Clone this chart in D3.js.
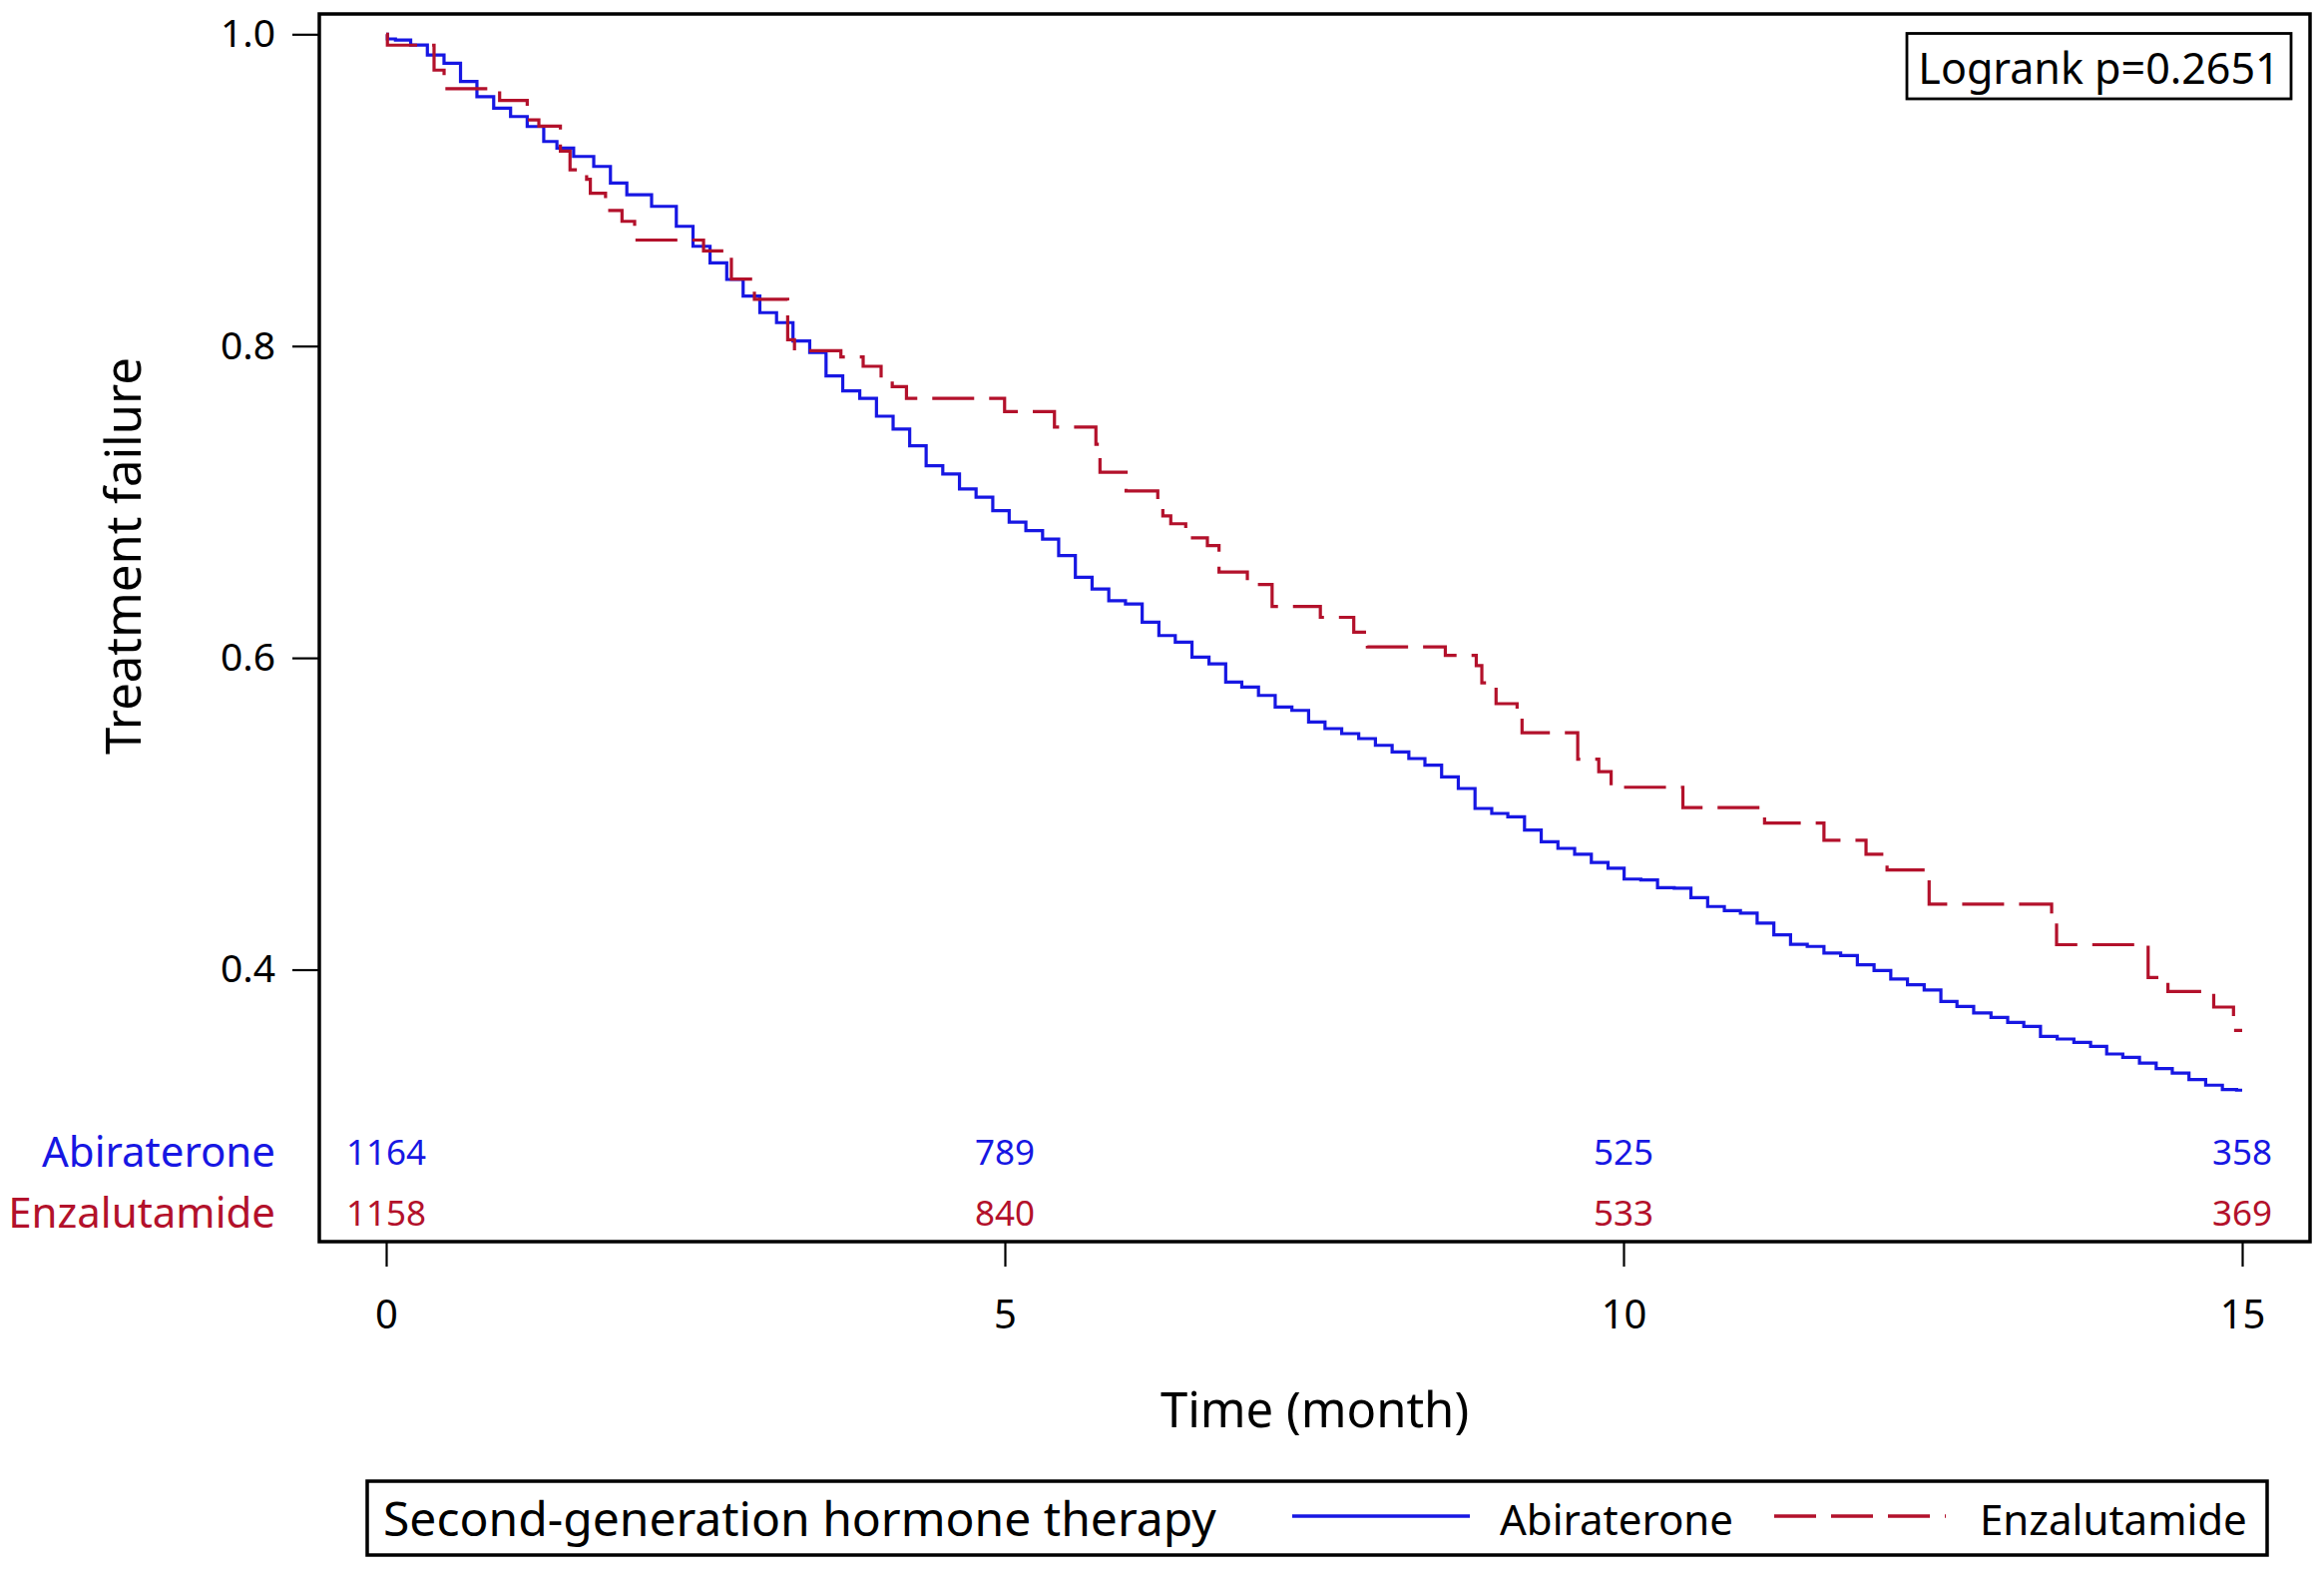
<!DOCTYPE html>
<html>
<head>
<meta charset="utf-8">
<script src="https://cdn.jsdelivr.net/npm/d3@7"></script>
<style>
  body { margin: 0; background: #fff; }
  svg text { font-family: "Noto Sans", "Open Sans", sans-serif; }
</style>
</head>
<body>
<div id="chart"></div>
<script>
// Abiraterone KM estimate (time in months, proportion)
const abiTime = [0, 0.02, 0.13, 0.266, 0.40, 0.535, 0.667, 0.80, 0.938, 1.073, 1.207, 1.34, 1.42, 1.61, 1.745, 1.88, 2.01, 2.28, 2.41, 2.55, 2.685, 2.82, 2.95, 3.09, 3.22, 3.356, 3.49, 3.62, 3.76, 3.895, 4.03, 4.164, 4.298, 4.43, 4.567, 4.70, 4.835, 4.97, 5.10, 5.24, 5.37, 5.50, 5.64, 5.77, 5.91, 6.04, 6.18, 6.31, 6.445, 6.58, 6.72, 6.85, 6.98, 7.12, 7.25, 7.39, 7.52, 7.655, 7.79, 7.93, 8.06, 8.2, 8.33, 8.46, 8.60, 8.73, 8.87, 9.0, 9.13, 9.27, 9.40, 9.54, 9.67, 9.81, 9.94, 10.07, 10.21, 10.34, 10.48, 10.61, 10.75, 10.88, 11.01, 11.15, 11.28, 11.42, 11.55, 11.69, 11.82, 11.96, 12.09, 12.23, 12.36, 12.5, 12.63, 12.76, 12.9, 13.04, 13.17, 13.3, 13.44, 13.57, 13.71, 13.84, 13.97, 14.1, 14.24, 14.37, 14.5, 14.64, 14.77, 14.91, 15.0];
const abiSurv = [1.0, 0.997, 0.9963, 0.9931, 0.9867, 0.9814, 0.9697, 0.960, 0.9526, 0.9472, 0.9408, 0.9312, 0.927, 0.9216, 0.9152, 0.9046, 0.897, 0.8896, 0.8768, 0.864, 0.8534, 0.8427, 0.832, 0.8214, 0.815, 0.8032, 0.7958, 0.7808, 0.7712, 0.7665, 0.755, 0.7467, 0.736, 0.7232, 0.7179, 0.7083, 0.703, 0.6944, 0.687, 0.6816, 0.6762, 0.6656, 0.6517, 0.6442, 0.6367, 0.6346, 0.6229, 0.6143, 0.6101, 0.6005, 0.5962, 0.5845, 0.5813, 0.5759, 0.5685, 0.5663, 0.5589, 0.5546, 0.5514, 0.5482, 0.5439, 0.5397, 0.5354, 0.5311, 0.5237, 0.5162, 0.5034, 0.5002, 0.498, 0.4895, 0.482, 0.4778, 0.474, 0.4688, 0.465, 0.4581, 0.4575, 0.4526, 0.4522, 0.4462, 0.4405, 0.4379, 0.4362, 0.4298, 0.4223, 0.4163, 0.4149, 0.4106, 0.4091, 0.4031, 0.3995, 0.394, 0.3903, 0.387, 0.3796, 0.3764, 0.3722, 0.3694, 0.3662, 0.3636, 0.3572, 0.3555, 0.3534, 0.3508, 0.3459, 0.3438, 0.3401, 0.3365, 0.3337, 0.3295, 0.3259, 0.3231, 0.3227];

// Enzalutamide KM estimate: value after each step
const enzTime = [0, 0.01, 0.387, 0.468, 0.917, 1.14, 1.234, 1.408, 1.486, 1.62, 1.65, 1.773, 1.906, 2.008, 2.565, 2.79, 2.976, 3.245, 3.30, 3.675, 3.855, 4.0, 4.09, 4.205, 4.998, 5.401, 5.736, 5.769, 5.98, 6.236, 6.277, 6.341, 6.462, 6.637, 6.731, 6.96, 7.16, 7.55, 7.82, 7.93, 8.56, 8.81, 8.855, 8.97, 9.14, 9.18, 9.63, 9.80, 9.90, 10.48, 11.14, 11.62, 11.96, 12.13, 12.47, 13.46, 13.50, 14.24, 14.40, 14.77, 14.93, 15.0];
const enzSurv = [1.0, 0.993, 0.977, 0.965, 0.9575, 0.945, 0.941, 0.925, 0.913, 0.907, 0.898, 0.887, 0.880, 0.868, 0.861, 0.843, 0.830, 0.804, 0.797, 0.793, 0.787, 0.779, 0.774, 0.7665, 0.758, 0.748, 0.737, 0.719, 0.707, 0.701, 0.691, 0.686, 0.677, 0.672, 0.655, 0.647, 0.633, 0.626, 0.6165, 0.607, 0.6016, 0.595, 0.584, 0.5706, 0.5615, 0.552, 0.535, 0.527, 0.517, 0.504, 0.494, 0.483, 0.474, 0.464, 0.442, 0.432, 0.416, 0.395, 0.386, 0.376, 0.361, 0.361];

const groups = ["Abiraterone", "Enzalutamide"];
const riskTimes = [0, 5, 10, 15];
const abiAtRisk = [1164, 789, 525, 358];
const enzAtRisk = [1158, 840, 533, 369];
const yTicks = [0.4, 0.6, 0.8, 1.0];
const xTicks = [0, 5, 10, 15];
const pValueText = "Logrank p=0.2651";

const blue = "#1717e3";
const red = "#b3112b";

const width = 2329, height = 1579;
const frame = { left: 320, top: 14, right: 2315, bottom: 1244 };

const svg = d3.select("#chart").append("svg")
    .attr("width", width)
    .attr("height", height);

const x = d3.scaleLinear().domain([0, 15]).range([387, 2247]);
const y = d3.scaleLinear().domain([0.4, 1.0]).range([971.5, 34.3]);

// y axis ticks (frame draws the spine)
const yAxis = svg.append("g")
    .attr("transform", `translate(${frame.left},0)`)
    .call(d3.axisLeft(y).tickValues(yTicks).tickSize(27).tickPadding(17).tickFormat(d3.format(".1f")));
yAxis.select(".domain").remove();
yAxis.selectAll("line").attr("stroke", "#000").attr("stroke-width", 2.2);
yAxis.selectAll("text").attr("font-size", 39).attr("fill", "#000")
    .style("font-family", "'Noto Sans', sans-serif");

// x axis ticks
const xAxis = svg.append("g")
    .attr("transform", `translate(0,${frame.bottom})`)
    .call(d3.axisBottom(x).tickValues(xTicks).tickSize(25).tickPadding(34));
xAxis.select(".domain").remove();
xAxis.selectAll("line").attr("stroke", "#000").attr("stroke-width", 2.2);
xAxis.selectAll("text").attr("font-size", 40).attr("fill", "#000")
    .style("font-family", "'Noto Sans', sans-serif");

// axis labels
svg.append("text")
    .attr("transform", "translate(141,557) rotate(-90)")
    .attr("text-anchor", "middle")
    .attr("font-size", 49)
    .text("Treatment failure");

svg.append("text")
    .attr("x", (frame.left + frame.right) / 2)
    .attr("y", 1430)
    .attr("text-anchor", "middle")
    .attr("font-size", 49)
    .text("Time (month)");

// curves
const line = d3.line().x(d => x(d[0])).y(d => y(d[1]));

svg.append("path")
    .datum(d3.zip(abiTime, abiSurv))
    .attr("fill", "none")
    .attr("stroke", blue)
    .attr("stroke-width", 3.2)
    .attr("d", line.curve(d3.curveStep));

svg.append("path")
    .datum(d3.zip(enzTime, enzSurv))
    .attr("fill", "none")
    .attr("stroke", red)
    .attr("stroke-width", 3.2)
    .attr("stroke-dasharray", "42,15")
    .attr("d", line.curve(d3.curveStepAfter));

// number at risk
const riskRows = [
    { name: groups[0], values: abiAtRisk, color: blue, y: 1167 },
    { name: groups[1], values: enzAtRisk, color: red, y: 1228 }
];
riskRows.forEach(row => {
    svg.append("text")
        .attr("x", 276)
        .attr("y", row.y + 2)
        .attr("text-anchor", "end")
        .attr("font-size", 42)
        .attr("fill", row.color)
        .text(row.name);
    svg.selectAll(null)
        .data(row.values)
        .enter()
        .append("text")
        .attr("x", (d, i) => x(riskTimes[i]))
        .attr("y", row.y)
        .attr("text-anchor", "middle")
        .attr("font-size", 35)
        .attr("fill", row.color)
        .text(d => d);
});

// plot frame
svg.append("rect")
    .attr("x", frame.left)
    .attr("y", frame.top)
    .attr("width", frame.right - frame.left)
    .attr("height", frame.bottom - frame.top)
    .attr("fill", "none")
    .attr("stroke", "#000")
    .attr("stroke-width", 3.5);

// logrank inset
svg.append("rect")
    .attr("x", 1911)
    .attr("y", 33.5)
    .attr("width", 385)
    .attr("height", 65.5)
    .attr("fill", "#fff")
    .attr("stroke", "#000")
    .attr("stroke-width", 2.8);
svg.append("text")
    .attr("x", 2103.5)
    .attr("y", 84)
    .attr("text-anchor", "middle")
    .attr("font-size", 43)
    .text(pValueText);

// legend
const legend = svg.append("g");
legend.append("rect")
    .attr("x", 368)
    .attr("y", 1484)
    .attr("width", 1904)
    .attr("height", 74)
    .attr("fill", "none")
    .attr("stroke", "#000")
    .attr("stroke-width", 3.5);
legend.append("text")
    .attr("x", 384)
    .attr("y", 1539)
    .attr("font-size", 48)
    .text("Second-generation hormone therapy");

const legendItems = [
    { name: groups[0], color: blue, dash: null, x1: 1295, x2: 1473, tx: 1503 },
    { name: groups[1], color: red, dash: "42,15", x1: 1778, x2: 1950, tx: 1984 }
];
legendItems.forEach(it => {
    legend.append("line")
        .attr("x1", it.x1).attr("x2", it.x2)
        .attr("y1", 1519).attr("y2", 1519)
        .attr("stroke", it.color)
        .attr("stroke-width", 3.5)
        .attr("stroke-dasharray", it.dash);
    legend.append("text")
        .attr("x", it.tx)
        .attr("y", 1538)
        .attr("font-size", 42)
        .text(it.name);
});
</script>
</body>
</html>
